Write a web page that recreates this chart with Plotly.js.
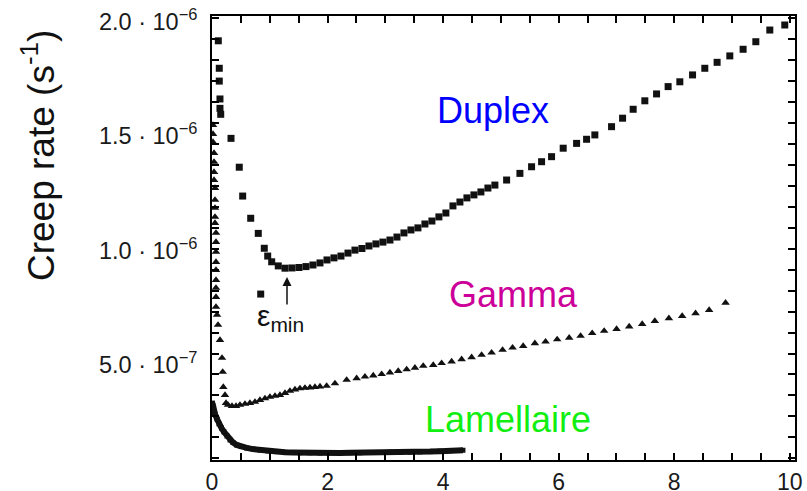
<!DOCTYPE html>
<html>
<head>
<meta charset="utf-8">
<script src="https://cdn.plot.ly/plotly-3.0.1.min.js"></script>
<style>html,body{margin:0;padding:0;background:#fff;}#chart{width:807px;height:491px;}</style>
</head>
<body>
<div id="chart"></div>
<script>
// Creep strain (%) on x, creep rate in units of 1e-6 s^-1 on y
const duplexX = [0.109,0.126,0.126,0.138,0.138,0.151,0.329,0.472,0.531,0.670,0.801,0.905,0.964,1.033,1.147,1.263,
  1.384,1.505,1.626,1.747,1.869,1.990,2.111,2.232,2.353,2.474,2.595,2.716,2.837,2.958,3.080,3.201,3.322,3.443,3.564,3.685,3.806,3.927,4.048,4.170,4.291,4.412,4.533,4.654,4.775,4.896,
  5.099,5.329,5.531,5.704,5.877,6.078,6.310,6.483,6.626,6.915,7.106,7.289,7.491,7.694,7.894,8.097,8.317,8.529,8.742,8.962,9.192,9.412,9.654,9.913,0.843];
const duplexY = [1.907,1.787,1.731,1.653,1.612,1.586,1.481,1.355,1.229,1.132,1.066,1.001,0.967,0.942,0.924,0.914,
  0.915,0.917,0.921,0.928,0.937,0.950,0.959,0.967,0.980,0.993,1.000,1.011,1.020,1.028,1.037,1.050,1.068,1.081,1.090,1.107,1.120,1.138,1.155,1.186,1.203,1.221,1.234,1.247,1.264,1.277,
  1.299,1.328,1.357,1.379,1.401,1.438,1.459,1.477,1.496,1.532,1.569,1.608,1.645,1.675,1.707,1.728,1.758,1.787,1.813,1.841,1.870,1.903,1.954,1.976,0.801];

const gammaX = [0.017,0.017,0.017,0.035,0.035,0.035,0.035,0.052,0.052,0.052,0.052,0.052,0.069,0.069,0.069,0.069,0.069,0.069,0.069,0.069,0.069,0.087,0.104,0.138,0.173,0.185,0.196,
  0.225,0.242,0.277,0.346,0.415,0.484,0.571,0.657,0.744,0.830,0.917,1.003,1.090,1.176,1.263,1.349,1.436,1.522,1.609,1.696,1.782,1.869,
  1.984,2.128,2.330,2.503,2.647,2.791,2.936,3.080,3.223,3.369,3.512,3.656,3.829,3.974,4.147,4.320,4.493,4.666,4.839,5.029,5.202,5.386,5.588,5.773,5.974,6.182,6.379,6.580,6.787,7.002,7.220,7.445,7.664,7.907,8.137,8.369,8.604,8.888];
const gammaY = [1.539,1.500,1.465,1.417,1.378,1.334,1.299,1.264,1.212,1.177,1.138,1.111,1.068,1.028,0.985,0.941,0.906,0.862,0.828,0.788,0.745,0.710,0.666,0.600,0.522,0.461,0.395,
  0.360,0.325,0.317,0.312,0.312,0.317,0.321,0.325,0.330,0.338,0.345,0.352,0.356,0.360,0.369,0.378,0.384,0.389,0.391,0.393,0.395,0.397,
  0.400,0.411,0.426,0.433,0.440,0.445,0.451,0.458,0.465,0.472,0.479,0.487,0.491,0.499,0.506,0.516,0.525,0.535,0.545,0.557,0.567,0.574,0.586,0.593,0.603,0.610,0.618,0.630,0.640,0.648,0.659,0.670,0.683,0.695,0.705,0.717,0.731,0.763];

const lamX = [0.009,0.026,0.052,0.087,0.121,0.164,0.208,0.260,0.311,0.363,0.427,0.502,0.600,0.709,0.830,0.969,1.119,1.263,1.401,1.522,
  1.696,1.869,2.042,2.215,2.388,2.561,2.734,2.907,3.080,3.253,3.426,3.599,3.772,3.945,4.118,4.256,4.343];
const lamY = [0.325,0.299,0.277,0.255,0.234,0.216,0.199,0.181,0.164,0.153,0.142,0.135,0.129,0.124,0.120,0.116,0.113,0.110,0.109,0.108,
  0.108,0.107,0.108,0.107,0.108,0.108,0.109,0.109,0.110,0.110,0.111,0.112,0.113,0.115,0.117,0.118,0.119];

// y labels (relabelled values on the scanned frame)
const yLabelVals = [0.5,1.0,1.5,2.0];
const yLabelText = ['5.0 \u00b7 10<sup>\u22127</sup>','1.0 \u00b7 10<sup>\u22126</sup>','1.5 \u00b7 10<sup>\u22126</sup>','2.0 \u00b7 10<sup>\u22126</sup>'];

const FONT = 'Liberation Sans, Arial, Helvetica, sans-serif';

const traces = [
  {x: duplexX, y: duplexY, type: 'scatter', mode: 'markers', name: 'Duplex',
   marker: {symbol: 'square', size: 7, color: '#111'}},
  {x: gammaX, y: gammaY, type: 'scatter', mode: 'markers', name: 'Gamma',
   marker: {symbol: 'triangle-up', size: 7.5, color: '#111'}},
  {x: lamX, y: lamY, type: 'scatter', mode: 'lines+markers', name: 'Lamellaire',
   line: {color: '#111', width: 6}, marker: {symbol: 'square', size: 5, color: '#111'}}
];

const annotations = [
  {xref: 'paper', yref: 'paper', x: -0.2967, y: 0.6847, xanchor: 'center', yanchor: 'middle',
   text: 'Creep rate (s<sup>-1</sup>)', textangle: -90, showarrow: false,
   font: {family: FONT, size: 37, color: '#111'}},
  {x: 4.870, y: 1.603, text: 'Duplex', showarrow: false, xanchor: 'center', yanchor: 'middle',
   font: {family: FONT, size: 36, color: '#0000ff'}},
  {x: 5.225, y: 0.801, text: 'Gamma', showarrow: false, xanchor: 'center', yanchor: 'middle',
   font: {family: FONT, size: 36, color: '#cc0099'}},
  {x: 5.121, y: 0.255, text: 'Lamellaire', showarrow: false, xanchor: 'center', yanchor: 'middle',
   font: {family: FONT, size: 36, color: '#11ee11'}},
  {x: 1.194, y: 0.697, text: '\u03b5<sub>min</sub>', showarrow: false, xanchor: 'center', yanchor: 'middle',
   font: {family: FONT, size: 30, color: '#111'}},
  {x: 1.298, y: 0.8755, text: '', showarrow: true, ax: 0, ay: 29, axref: 'pixel', ayref: 'pixel',
   arrowhead: 2, arrowsize: 1.2, arrowwidth: 1.5, arrowcolor: '#111', standoff: 0, startstandoff: 0}
];
yLabelVals.forEach((v, i) => annotations.push({
  xref: 'paper', yref: 'y', x: -0.022, y: v, xanchor: 'right', yanchor: 'middle',
  text: yLabelText[i], showarrow: false, font: {family: FONT, size: 23.5, color: '#1a1a1a'}
}));

const layout = {
  width: 807, height: 491,
  margin: {l: 212, r: 12, t: 16, b: 31},
  showlegend: false,
  xaxis: {
    range: [0, 10.09], tick0: 0, dtick: 0.5, ticklabelstep: 4,
    ticks: 'inside', ticklen: 7, tickwidth: 2, tickcolor: '#000', layer: 'above traces',
    showline: true, linewidth: 2, linecolor: '#000', mirror: 'ticks',
    showgrid: false, zeroline: false,
    tickfont: {family: FONT, size: 23, color: '#1a1a1a'}
  },
  yaxis: {
    range: [0.0764, 2.0153], tick0: 0.1755, dtick: 0.09148,
    ticks: 'inside', ticklen: 7, tickwidth: 2, tickcolor: '#000', layer: 'above traces',
    showline: true, linewidth: 2, linecolor: '#000', mirror: 'ticks',
    showgrid: false, zeroline: false, showticklabels: false
  },
  annotations: annotations
};

Plotly.newPlot('chart', traces, layout, {displayModeBar: false});
</script>
</body>
</html>
